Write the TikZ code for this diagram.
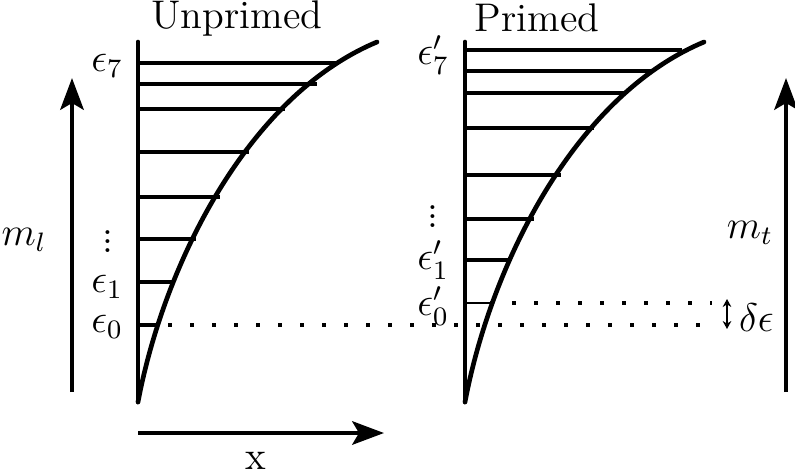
\documentclass[tikz,border=0pt]{standalone}
\usepackage{amsmath}
\usetikzlibrary{arrows.meta}
\newcommand\dotcol{\vbox{\baselineskip2.7pt\lineskiplimit0pt\hbox{.}\hbox{.}\hbox{.}}}
\tikzset{
  axisline/.style  ={line width=1.4pt,line cap=round},
  level/.style     ={line width=1.3pt},
  thinlevel/.style ={line width=0.5pt},
  dotrow/.style    ={line width=1.3pt,dash pattern=on 1.3pt off 5.3pt},
  bigarrow/.style  ={-{Stealth[length=9.5pt,width=7pt,inset=2pt]},line width=1.4pt},
  gaparrow/.style  ={{Stealth[length=2.4pt,width=2.6pt]}-{Stealth[length=2.4pt,width=2.6pt]},line width=0.7pt},
  lbl/.style       ={inner sep=1pt},
  dotslbl/.style   ={inner sep=0pt},
}

\begin{document}
\begin{tikzpicture}[x=0.3pt,y=-0.3pt,font=\large]
\useasboundingbox (0,0) rectangle (795,475);

%% titles
\node[lbl] (tU) at (237,18) {Unprimed};
\node[lbl] (tP) at (537,18) {Primed};

%% the two wells: axis and curve, same shape shifted
\foreach \s in {0,327}
{ \draw[axisline,xshift=\s*0.3pt] (138,42) -- (138,402);
  \draw[axisline,xshift=\s*0.3pt] (138,402) .. controls (165,260) and (250,95) .. (377,42); }

%% unprimed levels
\foreach \y/\xe in {63/338, 84/317, 109/285, 152/249, 197/220, 239/196, 282/174, 325/158}
  \draw[level] (138,\y) -- (\xe,\y);

%% primed levels
\foreach \y/\xe in {50/682, 71/652, 93/624, 128/594, 175/561, 219/534, 260/511}
  \draw[level] (465,\y) -- (\xe,\y);
\draw[thinlevel] (465,303) -- (490,303);

%% level labels
\node[lbl,anchor=east] (e7)  at (127,66)  {$\epsilon_7$};
\node[dotslbl]         (ld)  at (108,242) {\dotcol};
\node[lbl,anchor=east] (e1)  at (127,287) {$\epsilon_1$};
\node[lbl,anchor=east] (e0)  at (127,327) {$\epsilon_0$};
\node[lbl,anchor=east] (p7)  at (453,55)  {$\epsilon'_7$};
\node[dotslbl]         (rd)  at (433,217) {\dotcol};
\node[lbl,anchor=east] (p1)  at (453,260) {$\epsilon'_1$};
\node[lbl,anchor=east] (p0)  at (453,306) {$\epsilon'_0$};

%% ground levels carried across
\coordinate (g0) at (158,325);
\coordinate (g0r) at (712,325);
\coordinate (g1) at (490,303);
\coordinate (g1r) at (712,303);
\draw[dotrow] (g0) ++(10,0) -- (g0r);
\draw[dotrow] (g1) -- (g1r);

%% shift between the ground levels
\coordinate (d1) at (727,299);
\coordinate (d0) at (727,329);
\draw[gaparrow] (d1) -- (d0);
\node[lbl,anchor=west] (de) at (735,318) {$\delta\epsilon$};

%% side and bottom arrows
\coordinate (ml0) at (72,392);  \coordinate (ml1) at (72,78);
\coordinate (mt0) at (786,392); \coordinate (mt1) at (786,78);
\coordinate (x0) at (138,433);  \coordinate (x1) at (384,433);
\draw[bigarrow] (ml0) -- (ml1);
\draw[bigarrow] (mt0) -- (mt1);
\draw[bigarrow] (x0) -- (x1);
\node[lbl] (ml) at (24,240)  {$m_l$};
\node[lbl] (mt) at (750,233) {$m_t$};
\node[lbl] (xl) at (256,461) {x};
\end{tikzpicture}
\end{document}
